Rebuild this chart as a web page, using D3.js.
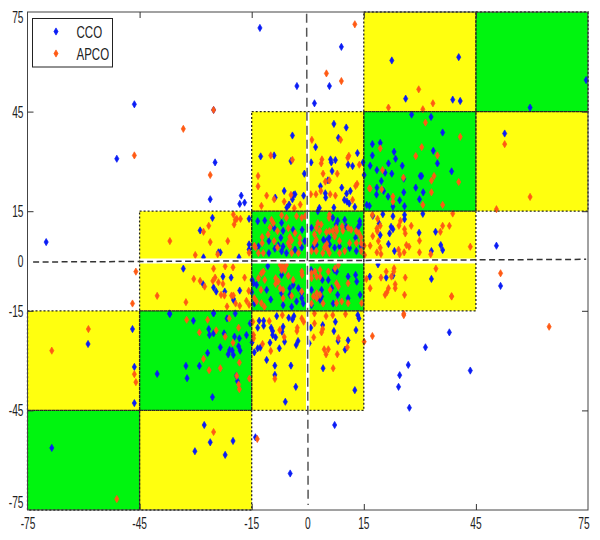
<!DOCTYPE html>
<html>
<head>
<meta charset="utf-8">
<script src="https://cdn.jsdelivr.net/npm/d3@7"></script>
<style>
  html, body { margin: 0; padding: 0; background: #fff; }
  text { font-family: "Liberation Sans Narrow", "Liberation Sans", sans-serif; fill: #222; }
</style>
</head>
<body>
<div id="chart"></div>
<script>
'use strict'
// tick labels, both axes use the same ones
var tickLabels = [-75, -45, -15, 0, 15, 45, 75]
var innerTicks = [-45, -15, 15, 45]

// zones as [x0, y0, x1, y1]
var greenCells = [[-15, -15, 15, 15], [15, 15, 45, 45], [45, 45, 75, 75], [-45, -45, -15, -15], [-75, -75, -45, -45]]
var yellowCells = [[-15, 15, 15, 45], [15, 45, 45, 75], [45, 15, 75, 45], [15, -15, 45, 15], [-45, -15, -15, 15],
  [-15, -45, 15, -15], [-75, -45, -45, -15], [-45, -75, -15, -45]]

// dashed zero lines, drawn slightly off true in the original
var zeroLineH = [[-73.5, -0.3], [74.5, 0.5]]
var zeroLineV = [[-0.3, 74.5], [0.1, -73.5]]

// values
var cco = [
  [-12.8,70.2],[-2.9,52.7],[-46.4,47.2],[-25.2,45.5],[-51.1,30.8],[-24.8,29.7],[-26.1,18.6],[-17.8,19.7],[-18.2,17.2],[-16.9,17.6],
  [7,41.3],[10.3,40.2],[-4.1,37.8],[8.2,37.1],[2.1,34.3],[13.3,32.5],[-12.6,31.5],[-9,31.8],[-4.5,30.1],[0.9,29.7],
  [6.1,30.6],[7.4,30.4],[6.3,29.7],[10.8,29],[12,28.6],[14.8,29.7],[6.5,27.1],[-0.9,26.3],[15.1,25.9],[5.4,24.3],
  [3.4,22.5],[9.1,22.1],[-6.3,21.1],[11.4,21.1],[10.4,20.3],[4.7,20.4],[4.8,19.1],[-3.4,20.1],[-3.8,19.9],[-1.1,19.7],
  [-4.1,18.6],[-8.7,19.1],[9.8,18.4],[10.5,17.9],[11.1,17.3],[-5,17],[-5.6,16.1],[12.6,16.3],[3.1,16],[7,16.1],[15.8,16.9],
  [-13,-18],[-11.8,-18],[-13.4,-20.1],[-11.8,-19.5],[-8.3,-16.6],[-9.8,-20.1],[-9.4,-21.1],[-9.4,-22.3],[-8.6,-23],[-5.1,-17.1],
  [-4.1,-17.6],[-3.7,-16.6],[-6.6,-19.8],[-6.9,-21.3],[-6.2,-24.3],[-10.1,-24.6],[-7.6,-26.3],[-2.6,-24.1],[-3.1,-25.3],[-12.7,-26.1],
  [-13.4,-26.3],[-14.3,-27.5],[-14.9,-24.5],[-11,-29.8],[-8.8,-31.5],[-4.5,-31.5],[-8.8,-34.3],[-3.2,-37.9],[-6,-42.4],[0.8,-20.1],
  [4,-19.3],[7.4,-18.3],[7,-21.1],[13.4,-16.3],[13.7,-17.3],[12.9,-20.8],[10.8,-23.9],[8.1,-24.1],[10,-26.7],[0.4,-24.8],
  [4.1,-32.3],[12.6,-38.9],
  [-25.5,13],[-28.8,9.2],[-15.7,12.7],[-23.4,2.6],[-23.9,2.6],[-15.7,5],[-15.7,3.5],[-27.9,1.1],[-18.4,1.1],[-33.3,-2.3],
  [-28,-7],[-22.7,-4.7],[-20.5,-5],[-25.2,-8],[-24.5,-9.2],[-22.2,-9.2],[-18.2,-8.9],[-19.9,-11.4],[-19.8,-11.9],[-14.5,-6.7],
  [-37,-15.8],[-25.2,-15.8],[-19.4,-15.8],[-15,-9.4],[-70,5.7],
  [17.4,13.6],[20.1,14.1],[22.8,13.5],[25.9,13.9],[25.9,12.6],[19.1,11.3],[22.3,10.3],[22.8,9.6],[21.9,8.3],[19.4,7.8],
  [29.8,8.5],[34.2,8.8],[21.6,5.1],[23.2,3],[33.1,3],[35.6,4.8],[36.1,3.3],[18.8,-1],[16.6,-4.7],[21,-5],
  [22.8,-4.4],[33.1,-5.4],[30.8,14.2],
  [9,64.5],[5.8,52.7],[1.8,47.5],[22.5,60.4],[40.4,61.4],[74.5,54.5],[26.2,48.9],[38.8,48.6],[40.8,48.2],[59.5,46.2],
  [27.8,44.1],[33,43.4],[36.1,38.7],[52.7,38.4],[17.3,35.2],[19.4,35.6],[17.3,31.8],[23.1,32.9],[23.5,30.8],[21.6,29.4],
  [16.7,28.7],[25.3,28.7],[18.5,27.4],[20.7,26.6],[22.5,26.3],[19.7,24.1],[25.7,24.8],[30.1,25.6],[30.5,25.6],[33.6,33.2],
  [34.7,29.4],[38.5,27],[28.9,22.1],[30.9,20.7],[29.9,18.6],[18.5,22.1],[20.3,21.1],[18.4,20],[21.5,19.4],[25.7,20.7],
  [24.6,18.3],[22.8,16.4],[25.9,16.5],[16.5,16.6],[50.5,4.6],
  [51.6,-7.5],[43.5,-33],[37.9,-21.5],[31.5,-26],[26.9,-31.3],[24.6,-34.4],[24.3,-37.9],[27.2,-44.2],[7.2,-49.4],
  [-46.9,-20.5],[-58.8,-25],[-46.4,-31.9],[-46.4,-42.8],[-68.5,-56.3],[-40.3,-34],[-32.6,-31.6],[-32.3,-35.3],[-29,-31.6],[-26.8,-27.7],
  [-25.5,-41],[-27.7,-49.4],[-26.1,-54.6],[-30.2,-57.3],[-22.1,-58.4],[-20,-54.2],[-14,-53.1],[-4.7,-64],[-36.9,-16],[-30.6,-18],
  [-25.2,-15.7],[-21.6,-17.3],[-26.5,-20.5],[-26.3,-22.3],[-25.2,-21.8],[-22.4,-21.8],[-19.6,-22.8],[-18.3,-23.3],[-16.4,-22.3],[-23.4,-26],
  [-18.5,-25.7],[-20.9,-26.8],[-20.2,-27],[-21.3,-28.1],[-19.9,-28.3],[-18.1,-27],[-19.1,-34.6],[-18.8,-36.2],[-15.4,-18.8],
  [-13.4,12],[-11.5,12.2],[-7,11.5],[-6.6,9.1],[-9,10],[-3.9,9.4],[-1.5,9.4],[-13.2,4.4],[-10.4,6],[-7.2,7],
  [-10.4,2.4],[-7.9,4.7],[-6.6,4.4],[-8.8,3.7],[-3.4,3.4],[-1.6,4.1],[-0.8,6],[-5.7,2.4],[-7,2.9],
  [6.7,13],[8,12.1],[9.9,12.4],[13.9,12],[13.9,11],[7.6,11],[1,10],[5,6],[5.7,7],[2.3,4.9],
  [1.4,4],[7.2,4],[8.5,4.4],[11.2,3.9],[14.3,4.4],[5.8,5],[4.2,6.4],[10.3,10.4],[13.4,10],[12.8,7],[13,3],[2.7,15],
  [-10.7,-1.5],[-7,-4.2],[-13.7,-7.2],[-14.9,-5.7],[-11,-8.7],[-9.9,-11.6],[-7,-9.7],[-3.9,-7.2],[-4.8,-8.2],[-2.5,-8.2],
  [-1.6,-9.7],[-4.8,-10.2],[-1.6,-11.2],[-6.6,-13.3],[-3,-12.2],[-4.3,-13.8],[-1.2,-12.8],[-14.3,-12.8],[0.9,-2.7],[3.7,-8.7],
  [3.7,-10.7],[1,-8.7],[1,-13.3],[3.9,-5.7],[3.3,-11.7],[7.7,-3.2],[7.1,-2.7],[5.5,-5.7],[10.8,-4.7],[12.8,-4.2],
  [13.1,-6.2],[6.4,-8.2],[8,-10.2],[10.8,-11.2],[6.8,-12.8],[14,-10.2]
]

var apco = [
  [-25.2,45.5],[-33.3,39.8],[-46.4,31.8],[-26.1,25.9],
  [1.1,36.5],[8.8,36.5],[11,31.7],[10.7,31.1],[-9.9,31.8],[-4.1,30.5],[3.8,30.6],[3.6,29.4],[13.8,29],[4.1,26.3],
  [7.9,26.3],[-13.3,25.6],[5.8,24.3],[4.7,23.9],[13.2,23.2],[-13.3,22.5],[12.8,22.6],[-11,19.7],[0.8,20.1],[2.2,20.1],
  [3.5,21.1],[6,20.1],[7.4,19.7],[-4.5,19.9],[-9,18.6],[-6.3,17.9],[-2,17],[-12.4,16.6],[12,18.4],[16.5,21.9],[-3.6,15.9],
  [-6.8,-16.3],[-14.7,-18.3],[-10.3,-18.1],[-14.5,-22.3],[-14.5,-23.3],[-12.1,-25],[-9.9,-27.1],[-7.5,-20.8],[-6.3,-22.9],[-2.8,-20.1],
  [-2.9,-21.1],[-1.6,-17.3],[-1.1,-18.3],[-8.8,-35.5],[1.8,-15.8],[1.8,-18.8],[4.9,-16.6],[6.7,-16.3],[10.1,-16],[4,-20.5],
  [3.7,-21.5],[1.6,-23],[8.2,-23.2],[10.6,-26],[4.4,-26.6],[5.5,-26.6],[4.9,-28.1],[7.9,-28.1],[6.8,-32.3],[15.1,-24.3],
  [-19.9,14],[-19,12.7],[-18,12.7],[-19.7,11],[-19.4,12.4],[-26.5,10.6],[-27.9,8.8],[-36.9,6],[-26.1,5.7],[-21.4,6],
  [-30.1,1.8],[-24.1,2],[-15.7,2.5],[-22.1,-1.6],[-20,-1.9],[-25.2,-2.3],[-16.9,-5],[-24.8,-5],[-25.4,-6],[-30.5,-5.4],
  [-28.8,-6],[-27.6,-7.7],[-23.9,-6.4],[-22.7,-6.9],[-40.3,-10.5],[-32.6,-12.4],[-23.2,-10.2],[-22.3,-10.4],[-20.4,-10.4],[-19.9,-10.4],
  [-19.3,-12.8],[-21.6,-13.7],[-18.2,-13.5],[-16.4,-12],[-15.8,-9],[-15.7,-13.2],[-46,-3.2],
  [17.3,13.9],[18.7,12.7],[19.4,10.6],[18.5,9.8],[25.9,9.6],[27.7,10.6],[24.8,12.1],[24.4,10.6],[18.6,9],[17.4,7.5],
  [26.1,8.3],[29.9,6.1],[18.9,6],[16.7,4.6],[19.4,4],[18.5,2.6],[19.6,2.1],[26.4,4.8],[27.1,4.3],[24.3,3.4],
  [24.6,2],[25.8,2.6],[29.9,2.6],[32.9,2],[36.1,10.6],[37.9,10.6],[35.5,8.8],[43.5,4.3],[15.2,1.8],[15.1,4.6],
  [38.8,14.3],[23.1,-2.2],[21,-3.2],[23,-3.2],[34.3,-2.3],[19.6,-5],[22.4,-4.7],[26.1,-5],[15.7,-5.4],[23.4,-7],
  [21.6,-8.2],[23.4,-8.2],[21.2,-9.4],[20.7,-10.2],[25.9,-10.2],[38.5,-10.6],[16.7,-8.2],[25.7,-15.9],
  [12.6,71.3],[5,56.5],[9,54.2],[29.7,51.7],[21.6,46.2],[30.8,45.7],[33.5,47.5],[31.5,41.7],[40.8,37.4],[52.7,35.2],
  [30.5,34.3],[28.9,31.6],[34.7,31.8],[19.4,33.9],[20,27.4],[25.6,25.1],[33.1,24.2],[33.8,25.6],[40.4,23.8],[16.7,21.8],
  [22.8,19.4],[22.8,17.9],[33.1,20.7],[30.8,16.9],[36.1,16.9],[59.5,19.3],[50.5,15.6],[19.8,21.6],
  [51.6,-3.7],[64.6,-19.8],[17.3,-22.6],[25.7,-16.3],[38.5,-10.7],
  [-58.7,-20.5],[-68.5,-27],[-46.4,-34.1],[-46,-36.5],[-46.9,-12.8],[-51.1,-71.7],[-25.2,-51.5],[-13.5,-53.6],[-32.4,-17.7],[-26.8,-17.7],
  [-29,-21.5],[-24.5,-20.9],[-22.1,-22.8],[-18.5,-20.1],[-20,-24.6],[-21,-17.3],[-27.9,-29.5],[-26.4,-32.9],[-23.4,-32.3],[-18.3,-30.6],
  [-19,-34.6],[-18.5,-37.2],[-18.3,-38.6],[-15.6,-35.4],
  [-9.7,12.4],[-9.2,11.4],[-7,13.8],[-10.1,10.1],[-3,13.5],[-1.6,13],[-5.2,9.9],[-12.2,7.2],[-12.2,5.4],[-14.3,4.6],
  [-4.8,7.2],[-4.3,6.2],[-5.2,5.4],[-4.8,4.4],[-14,4.1],[-2.1,7],[-10.6,8],[-3.4,8.4],[-8.1,4.1],[-11.9,2.4],
  [-13.2,2.4],[-2.5,2.4],[-4.3,2.4],[-5.7,13],[-8.1,9],[-9,6],[-2.1,5.4],[-0.7,13.5],
  [2.7,11.4],[2.3,10],[3.2,9],[5.8,14],[5.7,13],[7.6,10],[9.2,10.4],[10.8,10],[11.6,9.4],[13,9],
  [13.7,8.4],[6.7,9],[5.8,9],[5,8.7],[7.8,9],[1.8,8],[2.3,6.4],[1.8,5.4],[14.3,5.4],[14.3,7.1],
  [13,5.4],[11.2,5.4],[8.5,6],[5.1,5.1],[4.5,4.1],[5.4,3.4],[5.8,2.4],[4,2.4],[2.3,3],[1,3],
  [8.5,2.4],[14.3,3],[9.9,3],[3.6,11],[7.2,7.4],[9.4,9.1],
  [-7.4,-1.2],[-6.6,-1.7],[-5.7,-1.2],[-7,-2.7],[-6.1,-2.7],[-11.9,-3.2],[-12.4,-3.7],[-8.6,-5.2],[-8.6,-6.9],[-7.9,-6.2],
  [-7.4,-8.2],[-6.6,-8.7],[-5.2,-4.5],[-1.6,-3.2],[-1.5,-4.2],[-3.9,-5.7],[-13.2,-5.2],[-11.5,-5.7],[-12.5,-8.7],[-14.3,-11.2],
  [-13.7,-12.2],[-12.4,-12.7],[-11.6,-13.8],[-6.6,-11.2],[-1.6,-9.2],[-4.3,-10.5],
  [1,-3.7],[1.9,-3.2],[3.3,-2.7],[2.4,-4.7],[3.3,-4.7],[1,-5.2],[5.5,-3.2],[7.7,-6.7],[8.2,-7.7],[10.8,-6.7],
  [2.4,-9.7],[3.3,-10.2],[2.4,-11.2],[1.5,-10.7],[4.1,-12.8],[7.3,-2.2],[8.2,-1.2],[14.4,-12.7],[10.8,-12.7],[9.1,-12.2],
  [7.7,-12.7],[1,-12.8],[6,-8.7]
]

var width = 600
var height = 540
var plot = { left: 27.5, right: 588, top: 12, bottom: 510 }

var x = d3.scaleLinear().domain([-75, 75]).range([plot.left, plot.right])
var y = d3.scaleLinear().domain([-75, 75]).range([plot.bottom, plot.top])

var svg = d3.select('#chart').append('svg')
            .attr('width', width)
            .attr('height', height)
            .style('display', 'block')

var placeCell = function (sel) {
  sel.attr('x', function (d) { return x(d[0]) })
     .attr('y', function (d) { return y(d[3]) })
     .attr('width', function (d) { return x(d[2]) - x(d[0]) })
     .attr('height', function (d) { return y(d[1]) - y(d[3]) })
}
var drawCells = function (cells, color) {
  svg.append('g').selectAll('rect').data(cells).enter().append('rect')
     .call(placeCell)
     .attr('fill', color)
}
drawCells(greenCells, '#00f50f')
drawCells(yellowCells, '#ffff0f')

var diamond = d3.symbol().type(d3.symbolDiamond).size(15)

var drawPoints = function (points, color) {
  svg.append('g').selectAll('path').data(points).enter().append('path')
     .attr('d', diamond)
     .attr('transform', function (d) { return 'translate(' + x(d[0]) + ',' + y(d[1]) + ')' })
     .attr('fill', color)
     .attr('stroke', color)
     .attr('stroke-width', 0.7)
}
drawPoints(cco, '#0a1cf5')
drawPoints(apco, '#ff5a14')

// white gap along the axes over the inner zones
svg.append('line').attr('x1', x(0)).attr('x2', x(0)).attr('y1', y(45)).attr('y2', y(-45))
   .attr('stroke', '#fff').attr('stroke-width', 3.5)
svg.append('line').attr('x1', x(-45)).attr('x2', x(45)).attr('y1', y(0)).attr('y2', y(0))
   .attr('stroke', '#fff').attr('stroke-width', 5)

// dotted outlines of the zones
svg.append('g')
   .attr('fill', 'none')
   .attr('stroke', '#222')
   .attr('stroke-width', 1.3)
   .attr('stroke-dasharray', '2,2')
   .selectAll('rect').data(greenCells.concat(yellowCells)).enter().append('rect')
   .call(placeCell)

var zeroLine = d3.line()
  .x(function (d) { return x(d[0]) })
  .y(function (d) { return y(d[1]) })
svg.append('path').attr('d', zeroLine(zeroLineH)).attr('fill', 'none')
   .attr('stroke', '#333').attr('stroke-width', 1.5).attr('stroke-dasharray', '6,3.5')
svg.append('path').attr('d', zeroLine(zeroLineV)).attr('fill', 'none')
   .attr('stroke', '#555').attr('stroke-width', 1.5).attr('stroke-dasharray', '9,5')

// axes, ticks point inwards on all four sides
svg.append('rect')
   .attr('x', plot.left).attr('y', plot.top)
   .attr('width', plot.right - plot.left).attr('height', plot.bottom - plot.top)
   .attr('fill', 'none').attr('stroke', '#444').attr('stroke-width', 1)

var drawTicks = function (axis, transform) {
  svg.append('g').attr('transform', transform).call(axis)
     .call(function (g) { g.select('.domain').remove() })
     .call(function (g) { g.selectAll('.tick line').attr('stroke', '#333') })
     .call(function (g) { g.selectAll('text').remove() })
}
drawTicks(d3.axisTop(x).tickValues(innerTicks).tickSize(6), 'translate(0,' + plot.bottom + ')')
drawTicks(d3.axisBottom(x).tickValues(innerTicks).tickSize(6), 'translate(0,' + plot.top + ')')
drawTicks(d3.axisRight(y).tickValues(innerTicks).tickSize(6), 'translate(' + plot.left + ',0)')
drawTicks(d3.axisLeft(y).tickValues(innerTicks).tickSize(6), 'translate(' + plot.right + ',0)')

// tick labels are tall and squeezed in the original
var squeeze = 0.6
svg.append('g').selectAll('text').data(tickLabels).enter().append('text')
   .attr('text-anchor', 'middle')
   .attr('font-size', 17)
   .attr('transform', function (d) {
     var px = x(d)
     if (d === -75) px = 28
     if (d === 75) px = 584
     return 'translate(' + px + ',529) scale(' + squeeze + ',1)'
   })
   .text(function (d) { return d })

svg.append('g').selectAll('text').data(tickLabels).enter().append('text')
   .attr('text-anchor', 'end')
   .attr('font-size', 17)
   .attr('transform', function (d) {
     var py = y(d) + 6
     if (d === 75) py = 23
     if (d === -75) py = 508
     return 'translate(23.5,' + py + ') scale(' + squeeze + ',1)'
   })
   .text(function (d) { return d })

// legend
var legend = svg.append('g')
var legendNames = ['CCO', 'APCO']
var legendColors = ['#0a1cf5', '#ff5a14']
legend.append('rect')
      .attr('x', 32.5).attr('y', 18.5).attr('width', 80).attr('height', 48.5)
      .attr('fill', '#fff').attr('stroke', '#222').attr('stroke-width', 1)
legendNames.forEach(function (name, i) {
  var ly = 31.5 + i * 22
  legend.append('path').attr('d', diamond)
        .attr('transform', 'translate(56,' + ly + ')')
        .attr('fill', legendColors[i]).attr('stroke', legendColors[i]).attr('stroke-width', 0.7)
  legend.append('text')
        .attr('font-size', 16)
        .attr('transform', 'translate(76.5,' + (ly + 6) + ') scale(0.72,1)')
        .text(name)
})
</script>
</body>
</html>
